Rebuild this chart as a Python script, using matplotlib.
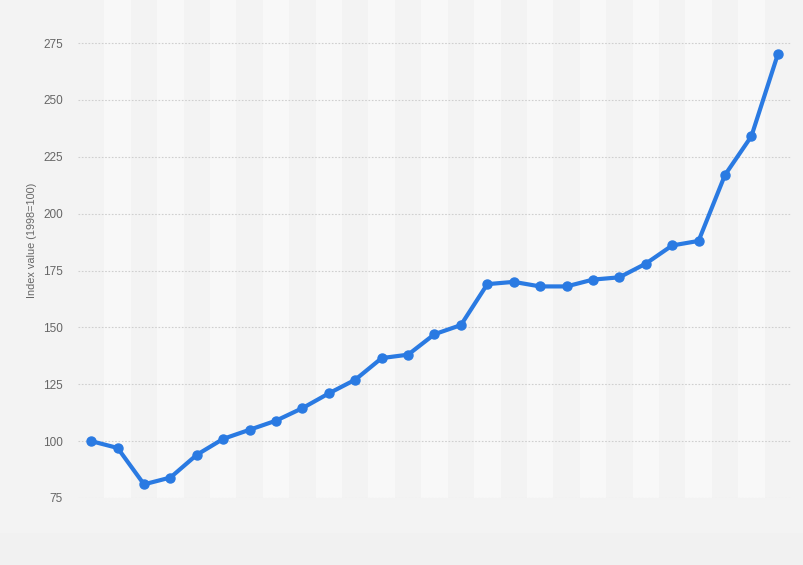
import numpy as np
import matplotlib.pyplot as plt
from matplotlib.patches import Rectangle

# index values, one per year (27 points)
values = [100, 97, 81, 84, 94, 101, 105, 109, 114.5, 121, 127, 136.5, 138,
          147, 151, 169, 170, 168, 168, 171, 172, 178, 186, 188, 217, 234, 270]
yticks = [75, 100, 125, 150, 175, 200, 225, 250, 275]
ylabel = "Index value (1998=100)"

x = np.arange(len(values))

fig = plt.figure(figsize=(8.04, 5.65), dpi=100)
fig.patch.set_facecolor("#f1f1f1")
# slightly lighter strip under the plot area
fig.patches.append(Rectangle((0, 1 - 533 / 565), 1, 533 / 565,
                             transform=fig.transFigure, color="#f3f3f3",
                             zorder=-1, lw=0))
ax = fig.add_axes([78 / 804, 1 - 498 / 565, (791 - 78) / 804, 498 / 565])
ax.set_facecolor("#f3f3f3")

# alternating column bands, lighter on every second point
for i in x[1::2]:
    ax.axvspan(i - 0.5, i + 0.5, color="#f8f8f8", zorder=0, lw=0)

for t in yticks:
    ax.axhline(t, color="#cfcfcf", lw=0.8, ls=(0, (1.5, 1.5)), zorder=1)

ax.plot(x, values, color="#2a7ae2", lw=3, marker="o", markersize=6.5,
        solid_capstyle="round", solid_joinstyle="round", zorder=3)

ax.set_xlim(-0.5, len(values) - 0.5)
ax.set_ylim(75, 275 + 43 / 2.275)
ax.set_xticks([])
ax.set_yticks(yticks)
ax.tick_params(axis="y", length=0, pad=11, labelsize=8.5, labelcolor="#666666")
for lab in ax.get_yticklabels():
    lab.set_fontfamily("Liberation Sans")
ax.set_ylabel(ylabel, fontsize=7.8, color="#666666", family="Liberation Sans")
ax.yaxis.set_label_coords(-0.058, 0.518)
for s in ax.spines.values():
    s.set_visible(False)

fig.savefig("out.png", dpi=100, facecolor=fig.get_facecolor())
